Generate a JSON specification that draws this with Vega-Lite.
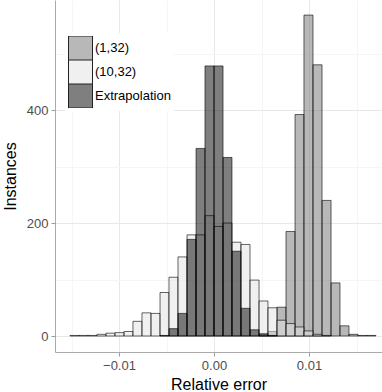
{
  "$schema": "https://vega.github.io/schema/vega-lite/v6.json",
  "width": 327,
  "height": 352,
  "autosize": {"type": "none"},
  "padding": {"left": 55, "top": 0, "right": 0, "bottom": 40},
  "background": "white",
  "config": {
    "font": "Liberation Sans",
    "view": {"stroke": null}
  },
  "data": {
    "values": [
      {"series": "(1,32)", "x0": 0.00474, "x1": 0.00568, "n": 2},
      {"series": "(1,32)", "x0": 0.00568, "x1": 0.00663, "n": 8},
      {"series": "(1,32)", "x0": 0.00663, "x1": 0.00758, "n": 51},
      {"series": "(1,32)", "x0": 0.00758, "x1": 0.00853, "n": 185},
      {"series": "(1,32)", "x0": 0.00853, "x1": 0.00947, "n": 392},
      {"series": "(1,32)", "x0": 0.00947, "x1": 0.01042, "n": 568},
      {"series": "(1,32)", "x0": 0.01042, "x1": 0.01137, "n": 480},
      {"series": "(1,32)", "x0": 0.01137, "x1": 0.01232, "n": 240},
      {"series": "(1,32)", "x0": 0.01232, "x1": 0.01326, "n": 94},
      {"series": "(1,32)", "x0": 0.01326, "x1": 0.01421, "n": 18},
      {"series": "(1,32)", "x0": 0.01421, "x1": 0.01516, "n": 3},
      {"series": "(1,32)", "x0": 0.01516, "x1": 0.01611, "n": 1},
      {"series": "(1,32)", "x0": 0.01611, "x1": 0.01705, "n": 1},

      {"series": "(10,32)", "x0": -0.01516, "x1": -0.01421, "n": 1},
      {"series": "(10,32)", "x0": -0.01421, "x1": -0.01326, "n": 1},
      {"series": "(10,32)", "x0": -0.01326, "x1": -0.01232, "n": 1},
      {"series": "(10,32)", "x0": -0.01232, "x1": -0.01137, "n": 3},
      {"series": "(10,32)", "x0": -0.01137, "x1": -0.01042, "n": 5},
      {"series": "(10,32)", "x0": -0.01042, "x1": -0.00947, "n": 6},
      {"series": "(10,32)", "x0": -0.00947, "x1": -0.00853, "n": 8},
      {"series": "(10,32)", "x0": -0.00853, "x1": -0.00758, "n": 26},
      {"series": "(10,32)", "x0": -0.00758, "x1": -0.00663, "n": 41},
      {"series": "(10,32)", "x0": -0.00663, "x1": -0.00568, "n": 40},
      {"series": "(10,32)", "x0": -0.00568, "x1": -0.00474, "n": 77},
      {"series": "(10,32)", "x0": -0.00474, "x1": -0.00379, "n": 104},
      {"series": "(10,32)", "x0": -0.00379, "x1": -0.00284, "n": 140},
      {"series": "(10,32)", "x0": -0.00284, "x1": -0.00189, "n": 179},
      {"series": "(10,32)", "x0": -0.00189, "x1": -0.00095, "n": 179},
      {"series": "(10,32)", "x0": -0.00095, "x1": 0, "n": 213},
      {"series": "(10,32)", "x0": 0, "x1": 0.00095, "n": 194},
      {"series": "(10,32)", "x0": 0.00095, "x1": 0.00189, "n": 200},
      {"series": "(10,32)", "x0": 0.00189, "x1": 0.00284, "n": 166},
      {"series": "(10,32)", "x0": 0.00284, "x1": 0.00379, "n": 162},
      {"series": "(10,32)", "x0": 0.00379, "x1": 0.00474, "n": 99},
      {"series": "(10,32)", "x0": 0.00474, "x1": 0.00568, "n": 62},
      {"series": "(10,32)", "x0": 0.00568, "x1": 0.00663, "n": 50},
      {"series": "(10,32)", "x0": 0.00663, "x1": 0.00758, "n": 28},
      {"series": "(10,32)", "x0": 0.00758, "x1": 0.00853, "n": 22},
      {"series": "(10,32)", "x0": 0.00853, "x1": 0.00947, "n": 16},
      {"series": "(10,32)", "x0": 0.00947, "x1": 0.01042, "n": 9},
      {"series": "(10,32)", "x0": 0.01042, "x1": 0.01137, "n": 3},
      {"series": "(10,32)", "x0": 0.01137, "x1": 0.01232, "n": 1},

      {"series": "Extrapolation", "x0": -0.00568, "x1": -0.00474, "n": 1},
      {"series": "Extrapolation", "x0": -0.00474, "x1": -0.00379, "n": 13},
      {"series": "Extrapolation", "x0": -0.00379, "x1": -0.00284, "n": 40},
      {"series": "Extrapolation", "x0": -0.00284, "x1": -0.00189, "n": 171},
      {"series": "Extrapolation", "x0": -0.00189, "x1": -0.00095, "n": 332},
      {"series": "Extrapolation", "x0": -0.00095, "x1": 0, "n": 478},
      {"series": "Extrapolation", "x0": 0, "x1": 0.00095, "n": 478},
      {"series": "Extrapolation", "x0": 0.00095, "x1": 0.00189, "n": 316},
      {"series": "Extrapolation", "x0": 0.00189, "x1": 0.00284, "n": 150},
      {"series": "Extrapolation", "x0": 0.00284, "x1": 0.00379, "n": 49},
      {"series": "Extrapolation", "x0": 0.00379, "x1": 0.00474, "n": 11},
      {"series": "Extrapolation", "x0": 0.00474, "x1": 0.00568, "n": 4},
      {"series": "Extrapolation", "x0": 0.00568, "x1": 0.00663, "n": 1}
    ]
  },
  "mark": {"type": "bar", "fillOpacity": 0.5, "stroke": "black", "strokeWidth": 0.6},
  "encoding": {
    "x": {
      "field": "x0",
      "type": "quantitative",
      "scale": {"domain": [-0.016737, 0.017684], "nice": false, "zero": false},
      "axis": {
        "title": "Relative error",
        "values": [-0.015, -0.01, -0.005, 0, 0.005, 0.01, 0.015],
        "labelExpr": "indexof([-0.01, 0, 0.01], datum.value) >= 0 ? format(datum.value, '.2f') : ''",
        "labelFontSize": 13,
        "labelColor": "#4d4d4d",
        "labelPadding": 3,
        "labelFlush": false,
        "labelOverlap": false,
        "tickSize": 4,
        "tickColor": {"condition": {"test": "indexof([-0.01, 0, 0.01], datum.value) < 0", "value": "transparent"}, "value": "#9a9a9a"},
        "domainColor": "#aaaaaa",
        "grid": true,
        "gridColor": {"condition": {"test": "indexof([-0.01, 0, 0.01], datum.value) < 0", "value": "#f5f5f5"}, "value": "#e8e8e8"},
        "titleFontSize": 16,
        "titleFontWeight": "normal",
        "titleColor": "black",
        "titlePadding": 4
      }
    },
    "x2": {"field": "x1"},
    "y": {
      "field": "n",
      "type": "quantitative",
      "scale": {"domain": [-28.3, 594.7], "nice": false, "zero": false},
      "axis": {
        "title": "Instances",
        "values": [0, 100, 200, 300, 400, 500],
        "labelExpr": "indexof([0, 200, 400], datum.value) >= 0 ? datum.label : ''",
        "labelFontSize": 13,
        "labelColor": "#4d4d4d",
        "labelPadding": 3,
        "labelFlush": false,
        "labelOverlap": false,
        "tickSize": 4,
        "tickColor": {"condition": {"test": "indexof([0, 200, 400], datum.value) < 0", "value": "transparent"}, "value": "#9a9a9a"},
        "domainColor": "#aaaaaa",
        "grid": true,
        "gridColor": {"condition": {"test": "indexof([0, 200, 400], datum.value) < 0", "value": "#f5f5f5"}, "value": "#e8e8e8"},
        "titleFontSize": 16,
        "titleFontWeight": "normal",
        "titleColor": "black",
        "titlePadding": 8
      }
    },
    "y2": {"datum": 0},
    "color": {
      "field": "series",
      "type": "nominal",
      "scale": {"domain": ["(1,32)", "(10,32)", "Extrapolation"], "range": ["#717171", "#e1e1e1", "#000000"]},
      "legend": {
        "title": null,
        "orient": "none",
        "legendX": 10,
        "legendY": 33,
        "padding": 3,
        "fillColor": "white",
        "symbolType": "square",
        "symbolSize": 576,
        "symbolStrokeColor": "#222222",
        "symbolStrokeWidth": 1,
        "rowPadding": 0,
        "clipHeight": 24,
        "labelFontSize": 13,
        "labelColor": "black",
        "labelOffset": 2,
        "encode": {"symbols": {"update": {"fillOpacity": {"value": 0.5}, "opacity": {"value": 1}}}}
      }
    }
  }
}
